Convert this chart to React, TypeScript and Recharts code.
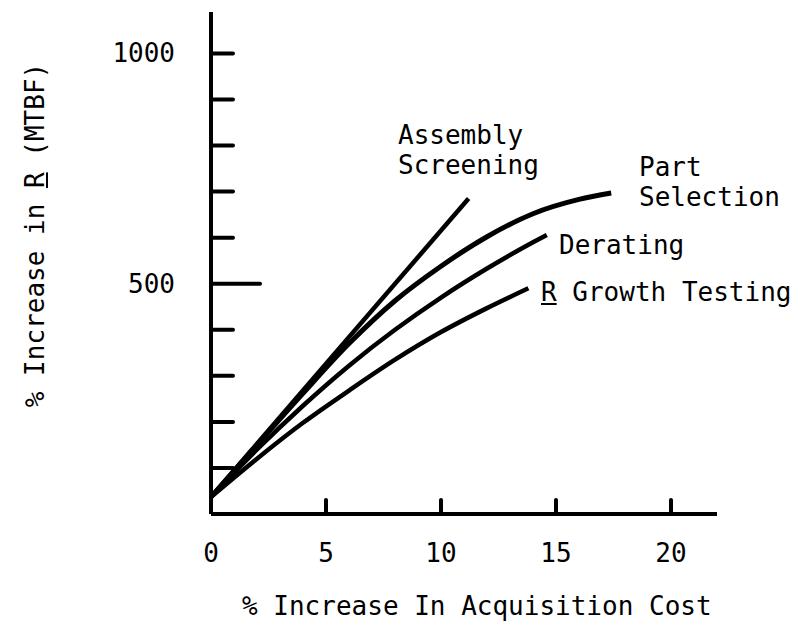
import { Line, LineChart, XAxis, YAxis } from 'recharts';

const assemblyX = [0, 11.2];
const assemblyY = [37, 685];
const partX = [0, 2, 4, 6, 8, 10, 12, 14, 16, 17.4];
const partY = [37, 150, 262, 370, 463, 538, 602, 652, 683, 697];
const deratingX = [0, 2, 4, 6, 8, 10, 12, 14, 14.6];
const deratingY = [37, 140, 235, 322, 400, 470, 533, 590, 606];
const growthX = [0, 2, 4, 6, 8, 10, 12, 13.8];
const growthY = [37, 120, 198, 268, 335, 395, 447, 490];

const xTicks = [0, 5, 10, 15, 20];
const yTicks = [100, 200, 300, 400, 500, 600, 700, 800, 900, 1000];
const yLabelled = [500, 1000];

const font = '"DejaVu Sans Mono", monospace';

const toPoints = (xs: number[], ys: number[]) => xs.map((x, i) => ({ x, y: ys[i] }));

function XTick(props: any) {
  const { x, y, payload } = props;
  return (
    <g>
      {payload.value !== 0 && <line x1={x} x2={x} y1={y - 2} y2={y - 14} stroke="#000" strokeWidth={4} strokeLinecap="round" />}
      <text x={x} y={y + 48} textAnchor="middle" fontFamily={font} fontSize={26} fill="#000">{payload.value}</text>
    </g>
  );
}

function YTick(props: any) {
  const { x, y, payload } = props;
  const long = payload.value === 500;
  return (
    <g>
      <line x1={x} x2={x + (long ? 49 : 22)} y1={y} y2={y} stroke="#000" strokeWidth={4} strokeLinecap="round" />
      {yLabelled.includes(payload.value) && (
        <text x={x - 36} y={y + 9} textAnchor="end" fontFamily={font} fontSize={26} fill="#000">{payload.value}</text>
      )}
    </g>
  );
}

const label: React.CSSProperties = { position: 'absolute', fontFamily: font, fontSize: 26, lineHeight: '30px', color: '#000', whiteSpace: 'pre' };

export default function App() {
  return (
    <div style={{ position: 'absolute', left: 0, top: 0, width: 802, height: 639, background: '#fff' }}>
      <LineChart width={802} height={639} margin={{ top: 12, right: 85, bottom: 95, left: 151 }}>
        <XAxis dataKey="x" type="number" domain={[0, 22]} ticks={xTicks} height={30} tickSize={0} tickMargin={0} tickLine={false}
          axisLine={{ stroke: '#000', strokeWidth: 4 }} tick={<XTick />} />
        <YAxis type="number" domain={[0, 1090]} ticks={yTicks} width={60} tickSize={0} tickMargin={0} tickLine={false}
          axisLine={{ stroke: '#000', strokeWidth: 4 }} tick={<YTick />} />
        <Line data={toPoints(assemblyX, assemblyY)} dataKey="y" type="linear" stroke="#000" strokeWidth={4.5} dot={false} isAnimationActive={false} />
        <Line data={toPoints(partX, partY)} dataKey="y" type="monotone" stroke="#000" strokeWidth={5} dot={false} isAnimationActive={false} />
        <Line data={toPoints(deratingX, deratingY)} dataKey="y" type="monotone" stroke="#000" strokeWidth={4.5} dot={false} isAnimationActive={false} />
        <Line data={toPoints(growthX, growthY)} dataKey="y" type="monotone" stroke="#000" strokeWidth={4.5} dot={false} isAnimationActive={false} />
      </LineChart>
      <div style={{ ...label, left: 398, top: 120 }}>{'Assembly\nScreening'}</div>
      <div style={{ ...label, left: 639, top: 152 }}>{'Part\nSelection'}</div>
      <div style={{ ...label, left: 559, top: 230 }}>Derating</div>
      <div style={{ ...label, left: 541, top: 277 }}><span style={{ textDecoration: 'underline' }}>R</span> Growth Testing</div>
      <div style={{ ...label, left: 242, top: 591 }}>% Increase In Acquisition Cost</div>
      <div style={{ ...label, left: 35, top: 235, transform: 'translate(-50%, -50%) rotate(-90deg)' }}>
        % Increase in <span style={{ textDecoration: 'underline' }}>R</span> (MTBF)
      </div>
    </div>
  );
}
